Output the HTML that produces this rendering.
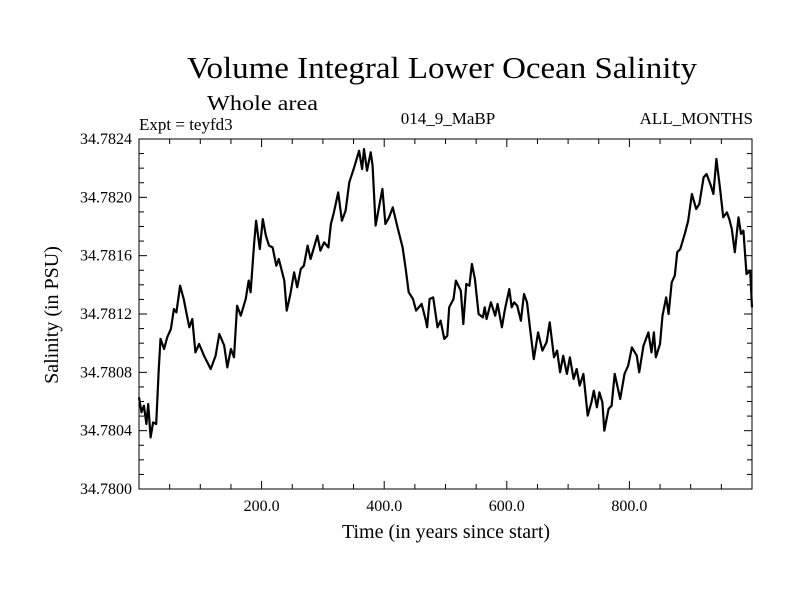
<!DOCTYPE html>
<html><head><meta charset="utf-8"><style>
html,body{margin:0;padding:0;background:#fff;}
svg{display:block;font-family:"Liberation Serif",serif;}
</style></head><body>
<svg id="chart" width="800" height="600" viewBox="0 0 800 600">
<text x="187" y="78" font-size="31" textLength="510" lengthAdjust="spacingAndGlyphs">Volume Integral Lower Ocean Salinity</text>
<text x="207" y="110" font-size="21" textLength="111" lengthAdjust="spacingAndGlyphs">Whole area</text>
<text x="139" y="130" font-size="17">Expt = teyfd3</text>
<text x="448" y="124" font-size="17" text-anchor="middle">014_9_MaBP</text>
<text x="753" y="124" font-size="17" text-anchor="end">ALL_MONTHS</text>
<text x="446" y="538" font-size="20" text-anchor="middle">Time (in years since start)</text>
<text x="0" y="0" font-size="20" text-anchor="middle" transform="translate(58,315) rotate(-90)">Salinity (in PSU)</text>
<g id="ticks"></g>
<g id="series"></g>
<rect x="139" y="139" width="613" height="350" fill="none" stroke="#000" stroke-width="1"/>
</svg>
<script>
const years = [0,4,8,12,15,19,23,28,32,35,41,46,52,57,61,67,73,82,87,92,98,106,117,125,131,139,144,150,155,160,166,174,179,182,188,191,197,202,207,212,218,224,228,237,241,247,253,258,264,269,275,280,291,296,302,309,313,318,325,331,337,343,351,359,364,367,372,378,381,386,392,397,402,408,414,421,430,435,440,447,452,461,468,470,474,480,487,492,498,503,506,
513,517,525,529,534,539,543,548,554,561,564,567,574,581,585,592,597,604,608,612,617,623,628,633,638,644,651,658,665,670,677,682,687,692,698,703,709,714,719,725,732,738,742,747,751,756,759,766,771,776,785,792,798,804,812,816,823,831,836,840,843,850,854,860,864,869,874,878,883,891,896,902,909,914,921,926,933,937,942,948,953,959,963,967,972,978,982,986,991,997,1000];
const salinity = [34.780629,34.780526,34.780571,34.780446,34.780583,34.780354,34.780457,34.780446,34.780800,34.781029,34.780960,34.781040,34.781097,34.781234,34.781211,34.781394,34.781303,34.781109,34.781166,34.780937,34.780994,34.780914,34.780823,34.780914,34.781063,34.780983,34.780834,34.780960,34.780903,34.781257,34.781189,34.781303,34.781429,34.781349,34.781691,34.781840,34.781646,34.781851,34.781737,34.781669,34.781657,34.781531,34.781577,34.781429,34.781223,34.781337,34.781486,34.781383,34.781509,34.781531,34.781669,34.781577,34.781737,34.781634,34.781691,34.781657,34.781817,34.781897,34.782034,34.781840,34.781909,34.782103,34.782206,34.782320,34.782194,34.782331,34.782183,34.782309,34.782217,34.781806,34.781943,34.782057,34.781817,34.781863,34.781931,34.781806,34.781657,34.781509,34.781349,34.781303,34.781223,34.781269,34.781154,34.781109,34.781303,34.781314,34.781109,34.781154,34.781029,34.781051,34.781246,
34.781303,34.781429,34.781360,34.781131,34.781406,34.781394,34.781543,34.781440,34.781200,34.781177,34.781246,34.781166,34.781280,34.781189,34.781269,34.781109,34.781234,34.781371,34.781246,34.781280,34.781257,34.781154,34.781337,34.781280,34.781097,34.780891,34.781074,34.780949,34.781006,34.781143,34.780903,34.780949,34.780800,34.780914,34.780789,34.780903,34.780754,34.780823,34.780709,34.780789,34.780503,34.780594,34.780674,34.780560,34.780663,34.780594,34.780400,34.780549,34.780571,34.780789,34.780617,34.780789,34.780846,34.780971,34.780914,34.780800,34.780983,34.781074,34.780937,34.781074,34.780903,34.780994,34.781189,34.781314,34.781200,34.781417,34.781463,34.781623,34.781646,34.781760,34.781840,34.782023,34.781920,34.781954,34.782137,34.782160,34.782080,34.782023,34.782263,34.782057,34.781863,34.781897,34.781851,34.781783,34.781623,34.781863,34.781749,34.781771,34.781474,34.781497,34.781246];
const yTickValues = [34.7800,34.7804,34.7808,34.7812,34.7816,34.7820,34.7824];
const yTickLabels = ["34.7800","34.7804","34.7808","34.7812","34.7816","34.7820","34.7824"];
const xTickValues = [200,400,600,800];
const xTickLabels = ["200.0","400.0","600.0","800.0"];

const L=139,R=752,T=139,B=489, X0=0,X1=1000, Y0=34.7800,Y1=34.7824;
const sx=v=>L+(v-X0)/(X1-X0)*(R-L);
const sy=v=>B-(v-Y0)/(Y1-Y0)*(B-T);
const NS='http://www.w3.org/2000/svg';
const tg=document.getElementById('ticks');
function line(x1,y1,x2,y2){const l=document.createElementNS(NS,'line');l.setAttribute('x1',x1);l.setAttribute('y1',y1);l.setAttribute('x2',x2);l.setAttribute('y2',y2);l.setAttribute('stroke','#000');l.setAttribute('stroke-width','1');tg.appendChild(l);return l;}
for(let yr=50;yr<1000;yr+=50){
  const x=sx(yr), major=yr%200===0, len=major?8:5;
  const a=line(x,B,x,B-len);
  
  
  const b=line(x,T,x,T+len);
  
  
}
for(let i=1;i<24;i++){
  const v=Y0+i*0.0001, y=sy(v), major=i%4===0, len=major?8:5;
  const a=line(L,y,L+len,y);
  
  
  const b=line(R,y,R-len,y);
  
  
}
yTickValues.forEach((v,i)=>{
  const t=document.createElementNS(NS,'text');
  t.setAttribute('x',132);t.setAttribute('y',sy(v)+5);t.setAttribute('font-size','16');t.setAttribute('text-anchor','end');
  t.textContent=yTickLabels[i];
  
  
  tg.appendChild(t);
});
xTickValues.forEach((v,i)=>{
  const t=document.createElementNS(NS,'text');
  t.setAttribute('x',sx(v));t.setAttribute('y',511);t.setAttribute('font-size','16');t.setAttribute('text-anchor','middle');
  t.textContent=xTickLabels[i];
  
  
  tg.appendChild(t);
});
const p=document.createElementNS(NS,'path');
p.setAttribute('d',years.map((yr,i)=>(i?'L':'M')+sx(yr).toFixed(1)+','+sy(salinity[i]).toFixed(1)).join(''));
p.setAttribute('fill','none');p.setAttribute('stroke','#000');p.setAttribute('stroke-width','2.2');p.setAttribute('stroke-linejoin','round');


document.getElementById('series').appendChild(p);
</script>
</body></html>
